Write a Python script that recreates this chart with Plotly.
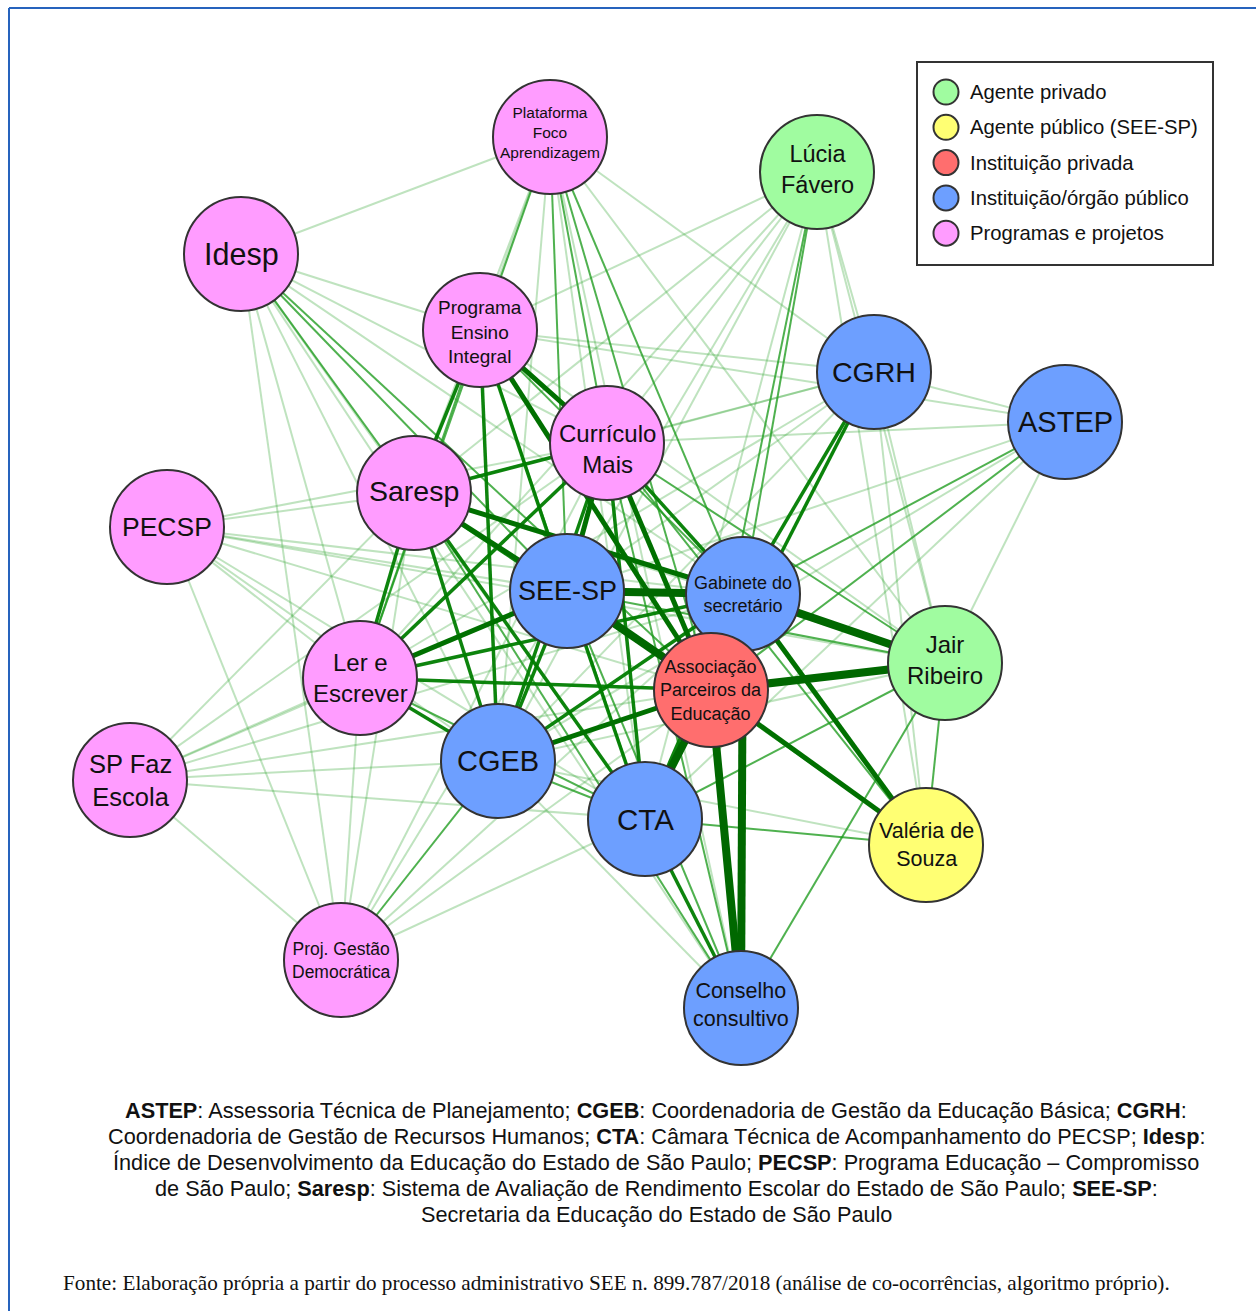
import plotly.graph_objects as go

# ---------------- data ----------------
node_ids = ["PFA", "LF", "ID", "PEI", "CGRH", "ASTEP", "CM", "SAR", "PEC", "SEE",
            "GAB", "JR", "LE", "APE", "CGEB", "SPF", "CTA", "VS", "PGD", "CC"]
node_labels = ["Plataforma<br>Foco<br>Aprendizagem", "Lúcia<br>Fávero", "Idesp",
               "Programa<br>Ensino<br>Integral", "CGRH", "ASTEP", "Currículo<br>Mais",
               "Saresp", "PECSP", "SEE-SP", "Gabinete do<br>secretário", "Jair<br>Ribeiro",
               "Ler e<br>Escrever", "Associação<br>Parceiros da<br>Educação", "CGEB",
               "SP Faz<br>Escola", "CTA", "Valéria de<br>Souza", "Proj. Gestão<br>Democrática",
               "Conselho<br>consultivo"]
node_category = ["Programas e projetos", "Agente privado", "Programas e projetos",
                 "Programas e projetos", "Instituição/órgão público", "Instituição/órgão público",
                 "Programas e projetos", "Programas e projetos", "Programas e projetos",
                 "Instituição/órgão público", "Instituição/órgão público", "Agente privado",
                 "Programas e projetos", "Instituição privada", "Instituição/órgão público",
                 "Programas e projetos", "Instituição/órgão público", "Agente público (SEE-SP)",
                 "Programas e projetos", "Instituição/órgão público"]
# network layout (layout coordinates)
node_x = [550, 817, 241, 480, 874, 1065, 607, 414, 167, 567,
          743, 945, 360, 711, 498, 130, 645, 926, 341, 741]
node_y = [137, 172, 254, 330, 372, 422, 443, 493, 527, 591,
          594, 663, 678, 690, 761, 780, 819, 845, 960, 1008]

categories = ["Agente privado", "Agente público (SEE-SP)", "Instituição privada",
              "Instituição/órgão público", "Programas e projetos"]

# co-occurrence edges: (source, target, strength 1..5)
edges = [
    ("PFA", "ID", 1), ("PFA", "PEI", 1), ("PFA", "SEE", 2), ("PFA", "CM", 2), ("PFA", "GAB", 2),
    ("PFA", "APE", 2), ("PFA", "CGEB", 1), ("PFA", "CTA", 1), ("PFA", "SAR", 1), ("PFA", "LE", 2),
    ("PFA", "CGRH", 1), ("PFA", "JR", 1), ("PFA", "CC", 1),
    ("ID", "PEI", 1), ("ID", "CM", 1), ("ID", "SAR", 2), ("ID", "SEE", 2), ("ID", "GAB", 1),
    ("ID", "APE", 2), ("ID", "LE", 1), ("ID", "CGEB", 1), ("ID", "CTA", 1), ("ID", "PGD", 1),
    ("ID", "CC", 1),
    ("LF", "PEI", 1), ("LF", "SAR", 1), ("LF", "CM", 1), ("LF", "SEE", 1), ("LF", "LE", 1),
    ("LF", "GAB", 2), ("LF", "APE", 2), ("LF", "CGEB", 1), ("LF", "CTA", 1), ("LF", "CGRH", 1),
    ("LF", "JR", 1), ("LF", "VS", 1),
    ("CGRH", "GAB", 3), ("CGRH", "APE", 3), ("CGRH", "SEE", 1), ("CGRH", "CM", 1),
    ("CGRH", "SAR", 1), ("CGRH", "PEI", 1), ("CGRH", "ASTEP", 1), ("CGRH", "JR", 1),
    ("CGRH", "VS", 1), ("CGRH", "CTA", 1), ("CGRH", "CGEB", 1), ("CGRH", "LE", 1),
    ("ASTEP", "CM", 1), ("ASTEP", "SEE", 1), ("ASTEP", "GAB", 2), ("ASTEP", "APE", 2),
    ("ASTEP", "PEI", 1), ("ASTEP", "JR", 1), ("ASTEP", "CGEB", 1), ("ASTEP", "CTA", 1),
    ("CM", "PEI", 4), ("CM", "SAR", 3), ("CM", "SEE", 4), ("CM", "GAB", 3), ("CM", "APE", 4),
    ("CM", "LE", 3), ("CM", "CGEB", 3), ("CM", "CTA", 3), ("CM", "CC", 2), ("CM", "JR", 2),
    ("CM", "VS", 2), ("CM", "PEC", 1), ("CM", "SPF", 1), ("CM", "PGD", 1),
    ("PEI", "SAR", 3), ("PEI", "SEE", 3), ("PEI", "GAB", 2), ("PEI", "APE", 4), ("PEI", "LE", 2),
    ("PEI", "CGEB", 3), ("PEI", "CTA", 2), ("PEI", "JR", 1),
    ("SAR", "SEE", 4), ("SAR", "GAB", 4), ("SAR", "APE", 3), ("SAR", "LE", 3), ("SAR", "CGEB", 3),
    ("SAR", "CTA", 3), ("SAR", "PEC", 1), ("SAR", "JR", 1), ("SAR", "CC", 2), ("SAR", "SPF", 1),
    ("SAR", "PGD", 1),
    ("PEC", "SEE", 1), ("PEC", "GAB", 1), ("PEC", "APE", 1), ("PEC", "LE", 1), ("PEC", "CGEB", 1),
    ("PEC", "CTA", 1), ("PEC", "JR", 1), ("PEC", "PGD", 1),
    ("SEE", "GAB", 5), ("SEE", "APE", 5), ("SEE", "CGEB", 3), ("SEE", "CTA", 3), ("SEE", "LE", 4),
    ("SEE", "CC", 2), ("SEE", "JR", 2), ("SEE", "VS", 2), ("SEE", "SPF", 1), ("SEE", "PGD", 1),
    ("GAB", "APE", 5), ("GAB", "JR", 5), ("GAB", "VS", 4), ("GAB", "CC", 5), ("GAB", "CTA", 3),
    ("GAB", "CGEB", 3), ("GAB", "LE", 3), ("GAB", "SPF", 1), ("GAB", "PGD", 1),
    ("APE", "JR", 5), ("APE", "VS", 4), ("APE", "CTA", 5), ("APE", "CC", 5), ("APE", "CGEB", 4),
    ("APE", "LE", 3), ("APE", "SPF", 1), ("APE", "PGD", 1),
    ("LE", "CGEB", 3), ("LE", "CTA", 2), ("LE", "SPF", 1), ("LE", "PGD", 1),
    ("CGEB", "CTA", 2), ("CGEB", "PGD", 2), ("CGEB", "SPF", 1), ("CGEB", "CC", 1),
    ("CGEB", "JR", 1), ("CGEB", "VS", 1),
    ("CTA", "CC", 3), ("CTA", "VS", 2), ("CTA", "JR", 2), ("CTA", "PGD", 1), ("CTA", "SPF", 1),
    ("JR", "VS", 2), ("JR", "CC", 2), ("SPF", "PGD", 1),
]

footnote_lines = [
    "<b>ASTEP</b>: Assessoria Técnica de Planejamento; <b>CGEB</b>: Coordenadoria de Gestão da Educação Básica; <b>CGRH</b>:",
    "Coordenadoria de Gestão de Recursos Humanos; <b>CTA</b>: Câmara Técnica de Acompanhamento do PECSP; <b>Idesp</b>:",
    "Índice de Desenvolvimento da Educação do Estado de São Paulo; <b>PECSP</b>: Programa Educação – Compromisso",
    "de São Paulo; <b>Saresp</b>: Sistema de Avaliação de Rendimento Escolar do Estado de São Paulo; <b>SEE-SP</b>:",
    "Secretaria da Educação do Estado de São Paulo",
]
source_text = ("Fonte: Elaboração própria a partir do processo administrativo SEE n. 899.787/2018 "
               "(análise de co-ocorrências, algoritmo próprio).")

# ---------------- styles ----------------
cat_colors = {
    "Agente privado": "#a0fca0",
    "Agente público (SEE-SP)": "#ffff73",
    "Instituição privada": "#ff6e6e",
    "Instituição/órgão público": "#6d9fff",
    "Programas e projetos": "#ff9cff",
}
edge_style = {
    1: dict(color="rgba(60,170,60,0.33)", width=2),
    2: dict(color="rgba(30,155,30,0.78)", width=2),
    3: dict(color="rgba(0,125,0,0.95)", width=3.5),
    4: dict(color="#007000", width=5),
    5: dict(color="#006800", width=8),
}
label_size = {"PFA": 15.5, "LF": 23.5, "ID": 30.5, "PEI": 19, "CGRH": 28.5, "ASTEP": 29, "CM": 24,
              "SAR": 28.5, "PEC": 26.5, "SEE": 27, "GAB": 18, "JR": 24, "LE": 24, "APE": 18,
              "CGEB": 29, "SPF": 25.5, "CTA": 29.5, "VS": 21.5, "PGD": 17.5, "CC": 21.5}
label_shift = {"PFA": 5, "LF": 3, "CM": -6, "JR": 3, "CC": 3, "PEI": -2, "SAR": 2}
FONT = "Liberation Sans, Arial, sans-serif"

pos = {n: (x, y) for n, x, y in zip(node_ids, node_x, node_y)}

fig = go.Figure()

# edges, grouped by strength (weak first)
for w in sorted(edge_style):
    xs, ys = [], []
    for a, b, s in edges:
        if s == w:
            xs += [pos[a][0], pos[b][0], None]
            ys += [pos[a][1], pos[b][1], None]
    fig.add_trace(go.Scatter(x=xs, y=ys, mode="lines", line=edge_style[w],
                             hoverinfo="skip", showlegend=False))

# nodes
fig.add_trace(go.Scatter(
    x=node_x, y=node_y, mode="markers",
    marker=dict(size=114, color=[cat_colors[c] for c in node_category],
                line=dict(color="#333333", width=2), opacity=1),
    hovertext=[l.replace("<br>", " ") for l in node_labels], hoverinfo="text",
    showlegend=False))

for n, lab, x, y in zip(node_ids, node_labels, node_x, node_y):
    fig.add_annotation(x=x, y=y, text=lab, showarrow=False, xref="x", yref="y",
                       yshift=label_shift.get(n, 0),
                       font=dict(family=FONT, size=label_size[n], color="#111"),
                       align="center", xanchor="center", yanchor="middle")

# legend box
fig.add_shape(type="rect", xref="x", yref="y", x0=917, x1=1213, y0=62, y1=265,
              line=dict(color="#333", width=2), fillcolor="white", layer="below")
leg_y = [92 + i * 35.3 for i in range(len(categories))]
fig.add_trace(go.Scatter(
    x=[946] * len(categories), y=leg_y, mode="markers",
    marker=dict(size=25, color=[cat_colors[c] for c in categories],
                line=dict(color="#333", width=2)),
    hoverinfo="skip", showlegend=False))
for c, y in zip(categories, leg_y):
    fig.add_annotation(x=968, y=y, text=c, showarrow=False, xref="x", yref="y",
                       xanchor="left", yanchor="middle",
                       font=dict(family=FONT, size=20.3, color="#111"))

# footnote
for i, line in enumerate(footnote_lines):
    fig.add_annotation(x=656, y=1110 + i * 26.2, text=line, showarrow=False,
                       xref="x", yref="y", xanchor="center", yanchor="middle",
                       font=dict(family=FONT, size=21.7, color="#111"))
fig.add_annotation(x=61, y=1283, text=source_text, showarrow=False, xref="x", yref="y",
                   xanchor="left", yanchor="middle",
                   font=dict(family="Liberation Serif, Times New Roman, serif", size=21.2,
                             color="#111"))

# frame lines (top and left)
fig.add_shape(type="line", xref="x", yref="y", x0=9, x1=1256, y0=8, y1=8,
              line=dict(color="#2663bd", width=2))
fig.add_shape(type="line", xref="x", yref="y", x0=9, x1=9, y0=8, y1=1311,
              line=dict(color="#2663bd", width=2))

fig.update_layout(
    width=1256, height=1311, margin=dict(l=0, r=0, t=0, b=0),
    paper_bgcolor="white", plot_bgcolor="white",
    xaxis=dict(range=[0, 1256], visible=False, fixedrange=True),
    yaxis=dict(range=[1311, 0], visible=False, fixedrange=True),
    showlegend=False,
)

fig.write_html("out.html", config={"displayModeBar": False},
               post_script="document.body.style.margin='0';")
